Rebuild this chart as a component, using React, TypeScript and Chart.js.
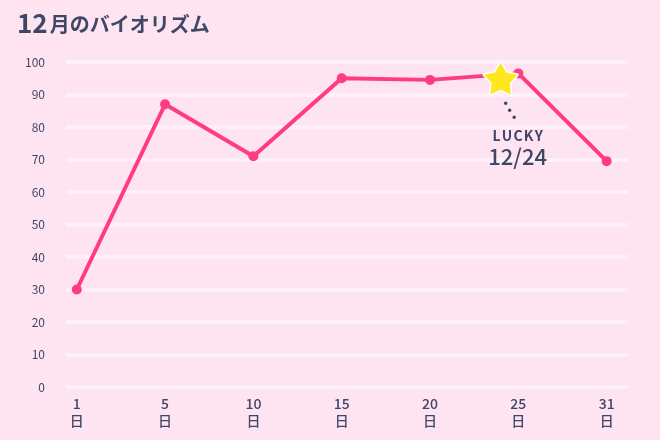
import React, { useEffect, useRef } from 'react';
import { Chart, registerables } from 'chart.js';

Chart.register(...registerables);

const TITLE_NUM = '12';
const TITLE_REST = '月のバイオリズム';
const DAYS = [1, 5, 10, 15, 20, 25, 31];
const DAY_SUFFIX = '日';
const VALUES = [30, 87, 71, 95, 94.5, 96.5, 69.5];
const Y_TICKS = [0, 10, 20, 30, 40, 50, 60, 70, 80, 90, 100];
const LUCKY_DAY = 24;
const LUCKY_VALUE = 95;
const LUCKY_LABEL = 'LUCKY';
const LUCKY_DATE = '12/24';

const BG = '#fee4f1';
const GRID = '#ffeff7';
const PINK = '#ff3b82';
const INK = '#3f4766';
const STAR = '#ffe71f';
const FONT = '"Noto Sans CJK JP", "Noto Sans", sans-serif';

function dayToPos(d: number): number {
  for (let i = 0; i < DAYS.length - 1; i++) {
    if (d >= DAYS[i] && d <= DAYS[i + 1]) {
      return i + (d - DAYS[i]) / (DAYS[i + 1] - DAYS[i]);
    }
  }
  return 0;
}

const overlayPlugin = {
  id: 'overlay',
  afterDraw(chart: any) {
    const ctx = chart.ctx as CanvasRenderingContext2D;
    const xs = chart.scales.x;
    const ys = chart.scales.y;
    ctx.save();
    // Title
    ctx.fillStyle = INK;
    ctx.textBaseline = 'alphabetic';
    ctx.textAlign = 'left';
    ctx.font = `bold 26px ${FONT}`;
    ctx.fillText(TITLE_NUM, 17, 33);
    const w = ctx.measureText(TITLE_NUM).width;
    ctx.font = `bold 20px ${FONT}`;
    ctx.fillText(TITLE_REST, 17 + w + 2, 32);

    // Lucky star
    const cx = xs.getPixelForValue(dayToPos(LUCKY_DAY));
    const cy = ys.getPixelForValue(LUCKY_VALUE);
    const R = 17.5;
    const r = 9.5;
    ctx.beginPath();
    for (let k = 0; k < 10; k++) {
      const rad = k % 2 === 0 ? R : r;
      const a = -Math.PI / 2 + (k * Math.PI) / 5;
      const px = cx + rad * Math.cos(a);
      const py = cy + 2 + rad * Math.sin(a);
      if (k === 0) ctx.moveTo(px, py);
      else ctx.lineTo(px, py);
    }
    ctx.closePath();
    ctx.lineJoin = 'round';
    ctx.lineWidth = 3;
    ctx.strokeStyle = '#ffffff';
    ctx.stroke();
    ctx.fillStyle = STAR;
    ctx.fill();

    // dots
    ctx.fillStyle = INK;
    const dots = [
      [5, 25],
      [9, 32],
      [13.5, 39],
    ];
    for (const [dx, dy] of dots) {
      ctx.beginPath();
      ctx.arc(cx + dx, cy + dy, 1.7, 0, Math.PI * 2);
      ctx.fill();
    }

    // texts
    ctx.textBaseline = 'middle';
    ctx.font = `bold 14px ${FONT}`;
    const lx = cx + 17;
    const spacing = 1.2;
    const chars = LUCKY_LABEL.split('');
    const widths = chars.map((c) => ctx.measureText(c).width);
    const total = widths.reduce((a, b) => a + b, 0) + spacing * (chars.length - 1);
    let x0 = lx - total / 2;
    ctx.textAlign = 'left';
    chars.forEach((c, i) => {
      ctx.fillText(c, x0, cy + 57);
      x0 += widths[i] + spacing;
    });
    ctx.textAlign = 'center';
    ctx.font = `500 22px ${FONT}`;
    ctx.fillText(LUCKY_DATE, lx, cy + 78);
    ctx.restore();
  },
};

export default function App() {
  const ref = useRef<HTMLCanvasElement | null>(null);

  useEffect(() => {
    document.body.style.margin = '0';
    document.body.style.background = BG;
    if (!ref.current) return;
    const chart = new Chart(ref.current, {
      type: 'line',
      data: {
        datasets: [
          {
            data: DAYS.map((_, i) => ({ x: i, y: VALUES[i] })),
            borderColor: PINK,
            backgroundColor: PINK,
            borderWidth: 4,
            borderJoinStyle: 'round',
            borderCapStyle: 'round',
            pointRadius: 5,
            pointHoverRadius: 5,
            pointBorderWidth: 0,
            tension: 0,
          },
        ],
      },
      options: {
        animation: false,
        responsive: false,
        events: [],
        layout: { padding: { top: 62, right: 32, left: 0, bottom: 0 } },
        plugins: { legend: { display: false }, tooltip: { enabled: false } },
        scales: {
          x: {
            type: 'linear',
            min: -0.122,
            max: 6.242,
            afterBuildTicks: (s: any) => {
              s.ticks = DAYS.map((_, i) => ({ value: i }));
            },
            afterFit: (s: any) => {
              s.height = 53;
            },
            ticks: {
              callback: (v: any) => [String(DAYS[Math.round(v)]), DAY_SUFFIX],
              padding: 0,
              color: INK,
              font: { family: FONT, size: 14, weight: '500', lineHeight: 1.2 },
              maxRotation: 0,
              autoSkip: false,
            },
            grid: { display: false },
            border: { display: false },
          },
          y: {
            min: 0,
            max: 100,
            afterBuildTicks: (s: any) => {
              s.ticks = Y_TICKS.map((v) => ({ value: v }));
            },
            afterFit: (s: any) => {
              s.width = 66;
            },
            ticks: {
              padding: 21,
              color: INK,
              font: { family: FONT, size: 12 },
            },
            grid: { color: GRID, lineWidth: 4, drawTicks: false },
            border: { display: false },
          },
        },
      },
      plugins: [overlayPlugin],
    } as any);
    return () => chart.destroy();
  }, []);

  return (
    <div style={{ width: 660, height: 440, background: BG }}>
      <canvas ref={ref} width={660} height={440} style={{ display: 'block', width: 660, height: 440 }} />
    </div>
  );
}
